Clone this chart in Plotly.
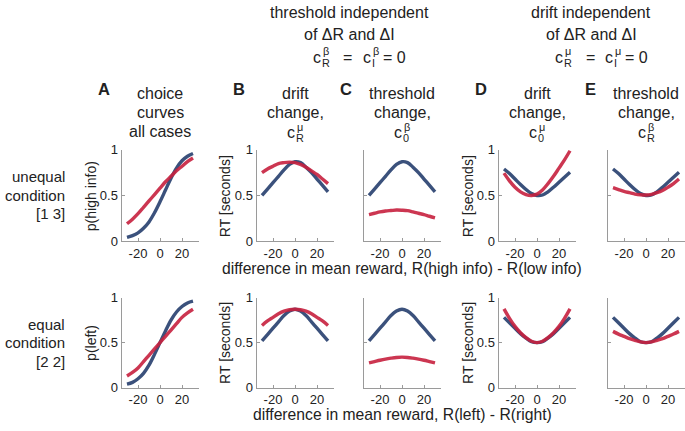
import plotly.graph_objects as go

# reward difference (x) shared by every panel
reward_diff = [-30, -25, -20, -15, -10, -5, 0, 5, 10, 15, 20, 25, 30]

# row 1: unequal condition [1 3]
a1_blue = [0.04, 0.06, 0.09, 0.14, 0.21, 0.31, 0.43, 0.56, 0.69, 0.80, 0.88, 0.93, 0.96]
a1_red = [0.19, 0.24, 0.30, 0.37, 0.44, 0.51, 0.58, 0.65, 0.71, 0.77, 0.82, 0.87, 0.91]
b1_blue = [0.50, 0.57, 0.64, 0.71, 0.78, 0.84, 0.87, 0.86, 0.81, 0.75, 0.68, 0.61, 0.54]
b1_red = [0.75, 0.79, 0.82, 0.85, 0.86, 0.865, 0.86, 0.84, 0.81, 0.77, 0.73, 0.68, 0.63]
c1_blue = [0.50, 0.57, 0.64, 0.71, 0.78, 0.84, 0.87, 0.86, 0.81, 0.75, 0.68, 0.61, 0.54]
c1_red = [0.29, 0.305, 0.32, 0.33, 0.335, 0.34, 0.338, 0.333, 0.32, 0.305, 0.29, 0.272, 0.255]
d1_blue = [0.79, 0.74, 0.68, 0.62, 0.565, 0.52, 0.50, 0.505, 0.54, 0.59, 0.645, 0.70, 0.755]
d1_red = [0.745, 0.66, 0.59, 0.54, 0.51, 0.50, 0.515, 0.56, 0.63, 0.71, 0.80, 0.89, 0.99]
e1_blue = [0.79, 0.74, 0.68, 0.62, 0.565, 0.52, 0.50, 0.505, 0.54, 0.59, 0.645, 0.70, 0.755]
e1_red = [0.585, 0.565, 0.545, 0.53, 0.515, 0.507, 0.505, 0.512, 0.53, 0.555, 0.59, 0.63, 0.68]

# row 2: equal condition [2 2]
a2_blue = [0.04, 0.06, 0.10, 0.16, 0.25, 0.37, 0.50, 0.63, 0.75, 0.84, 0.90, 0.94, 0.96]
a2_red = [0.13, 0.17, 0.22, 0.29, 0.36, 0.43, 0.50, 0.57, 0.64, 0.71, 0.78, 0.83, 0.87]
b2_blue = [0.52, 0.59, 0.66, 0.73, 0.80, 0.85, 0.87, 0.85, 0.80, 0.73, 0.66, 0.59, 0.52]
b2_red = [0.69, 0.74, 0.78, 0.82, 0.85, 0.865, 0.87, 0.865, 0.85, 0.82, 0.78, 0.74, 0.69]
c2_blue = [0.52, 0.59, 0.66, 0.73, 0.80, 0.85, 0.87, 0.85, 0.80, 0.73, 0.66, 0.59, 0.52]
c2_red = [0.275, 0.29, 0.305, 0.318, 0.328, 0.336, 0.34, 0.336, 0.328, 0.318, 0.305, 0.29, 0.275]
d2_blue = [0.78, 0.72, 0.66, 0.60, 0.55, 0.51, 0.50, 0.51, 0.55, 0.60, 0.66, 0.72, 0.78]
d2_red = [0.875, 0.77, 0.68, 0.61, 0.555, 0.515, 0.50, 0.515, 0.555, 0.61, 0.68, 0.77, 0.875]
e2_blue = [0.78, 0.72, 0.66, 0.60, 0.55, 0.51, 0.50, 0.51, 0.55, 0.60, 0.66, 0.72, 0.78]
e2_red = [0.625, 0.595, 0.57, 0.545, 0.525, 0.508, 0.50, 0.508, 0.525, 0.545, 0.57, 0.595, 0.625]

x_ticks = [-20, 0, 20]
x_tick_text = ["-20", "0", "20"]
y_ticks = [0, 0.5, 1]
y_tick_text = ["0", "0.5", "1"]

W, H = 685, 431
BLUE = "#263F6E"
RED = "#C7213F"
FONT = "Liberation Sans"
TXT = "#222222"
AXC = "#9a9a9a"

# panel centres in pixels and half-width
centres = [160, 295, 402, 537, 646]
half_w = 38.5
rows_px = [(148, 242.5), (301, 394.5)]

series = [
    [(a1_blue, a1_red), (b1_blue, b1_red), (c1_blue, c1_red), (d1_blue, d1_red), (e1_blue, e1_red)],
    [(a2_blue, a2_red), (b2_blue, b2_red), (c2_blue, c2_red), (d2_blue, d2_red), (e2_blue, e2_red)],
]
show_ylabels = [True, True, False, True, False]

fig = go.Figure()
layout_axes = {}
n = 0
for r, (top, bot) in enumerate(rows_px):
    for c, cx in enumerate(centres):
        n += 1
        blue, red = series[r][c]
        xa = "x" if n == 1 else f"x{n}"
        ya = "y" if n == 1 else f"y{n}"
        for vals, col in ((blue, BLUE), (red, RED)):
            fig.add_trace(go.Scatter(
                x=reward_diff, y=vals, mode="lines", xaxis=xa, yaxis=ya,
                line=dict(color=col, width=3.4, shape="spline"), opacity=0.9,
                showlegend=False, hoverinfo="skip",
            ))
        x0 = (cx - half_w) / W
        x1 = min((cx + half_w) / W, 1.0)
        layout_axes["xaxis" if n == 1 else f"xaxis{n}"] = dict(
            domain=[x0, x1], range=[-35, 35], anchor=ya,
            tickvals=x_ticks, ticktext=x_tick_text, ticks="inside", ticklen=3,
            tickcolor=AXC, showline=True, linecolor=AXC, linewidth=1,
            showgrid=False, zeroline=False,
            tickfont=dict(family=FONT, size=13, color=TXT),
        )
        layout_axes["yaxis" if n == 1 else f"yaxis{n}"] = dict(
            domain=[1 - bot / H, 1 - top / H], range=[0, 1], anchor=xa,
            tickvals=y_ticks, ticktext=y_tick_text if show_ylabels[c] else ["", "", ""],
            ticks="inside", ticklen=3, tickcolor=AXC,
            showline=True, linecolor=AXC, linewidth=1,
            showgrid=False, zeroline=False,
            tickfont=dict(family=FONT, size=13, color=TXT),
        )

ann = []


def text(x, y, s, size=16, bold=False, xanchor="center", angle=0):
    if bold:
        s = f"<b>{s}</b>"
    ann.append(dict(
        x=x / W, y=1 - y / H, xref="paper", yref="paper", text=s, showarrow=False,
        xanchor=xanchor, yanchor="middle", textangle=angle, borderpad=0,
        font=dict(family=FONT, size=size, color=TXT),
    ))


def coef(x, y, sub, sup, size=16):
    # c with a subscript and a superscript stacked over it
    text(x, y, "c", size=size, xanchor="right")
    text(x - 1, y + 6, sub, size=size * 0.68, xanchor="left")
    text(x, y - 6, sup, size=size * 0.68, xanchor="left")


# group headings
text(349, 6, "threshold independent")
text(349, 29, "of ΔR and ΔI")
coef(322, 52, "R", "β")
text(348, 52, "=")
coef(372, 52, "I", "β")
text(382, 52, "= 0", xanchor="left")
text(591, 6, "drift independent")
text(591, 29, "of ΔR and ΔI")
coef(564, 52, "R", "μ")
text(590, 52, "=")
coef(614, 52, "I", "μ")
text(624, 52, "= 0", xanchor="left")

# panel letters and titles
letters = ["A", "B", "C", "D", "E"]
titles = [
    ["choice", "curves", "all cases"],
    ["drift", "change,"],
    ["threshold", "change,"],
    ["drift", "change,"],
    ["threshold", "change,"],
]
coefs = [None, ("R", "μ"), ("0", "β"), ("0", "μ"), ("R", "β")]
for cx, letter, lines, cf in zip(centres, letters, titles, coefs):
    text(cx - 56, 85, letter, size=16.5, bold=True)
    for i, line in enumerate(lines):
        text(cx, 90 + 19.5 * i, line)
    if cf:
        coef(cx + 1, 130, cf[0], cf[1])

# row labels
for y, s in zip([176, 195, 214], ["unequal", "condition", "[1 3]"]):
    text(66, y, s, size=15, xanchor="right")
for y, s in zip([329, 348, 367], ["equal", "condition", "[2 2]"]):
    text(66, y, s, size=15, xanchor="right")

# y-axis titles
text(91, 196, "p(high info)", size=14, angle=-90)
text(225, 196, "RT [seconds]", size=14, angle=-90)
text(468, 196, "RT [seconds]", size=14, angle=-90)
text(91, 348, "p(left)", size=14, angle=-90)
text(225, 348, "RT [seconds]", size=14, angle=-90)
text(468, 348, "RT [seconds]", size=14, angle=-90)

# x-axis titles (centred under panel C)
text(402, 271, "difference in mean reward, R(high info) - R(low info)", size=15.7)
text(402, 422, "difference in mean reward, R(left) - R(right)", size=15.7)

fig.update_layout(
    width=W, height=H, margin=dict(l=0, r=0, t=0, b=0),
    plot_bgcolor="white", paper_bgcolor="white",
    annotations=ann, **layout_axes,
)

fig.write_html(
    "out.html",
    config={"displayModeBar": False},
    post_script="document.body.style.margin='0';document.body.style.overflow='hidden';",
)
